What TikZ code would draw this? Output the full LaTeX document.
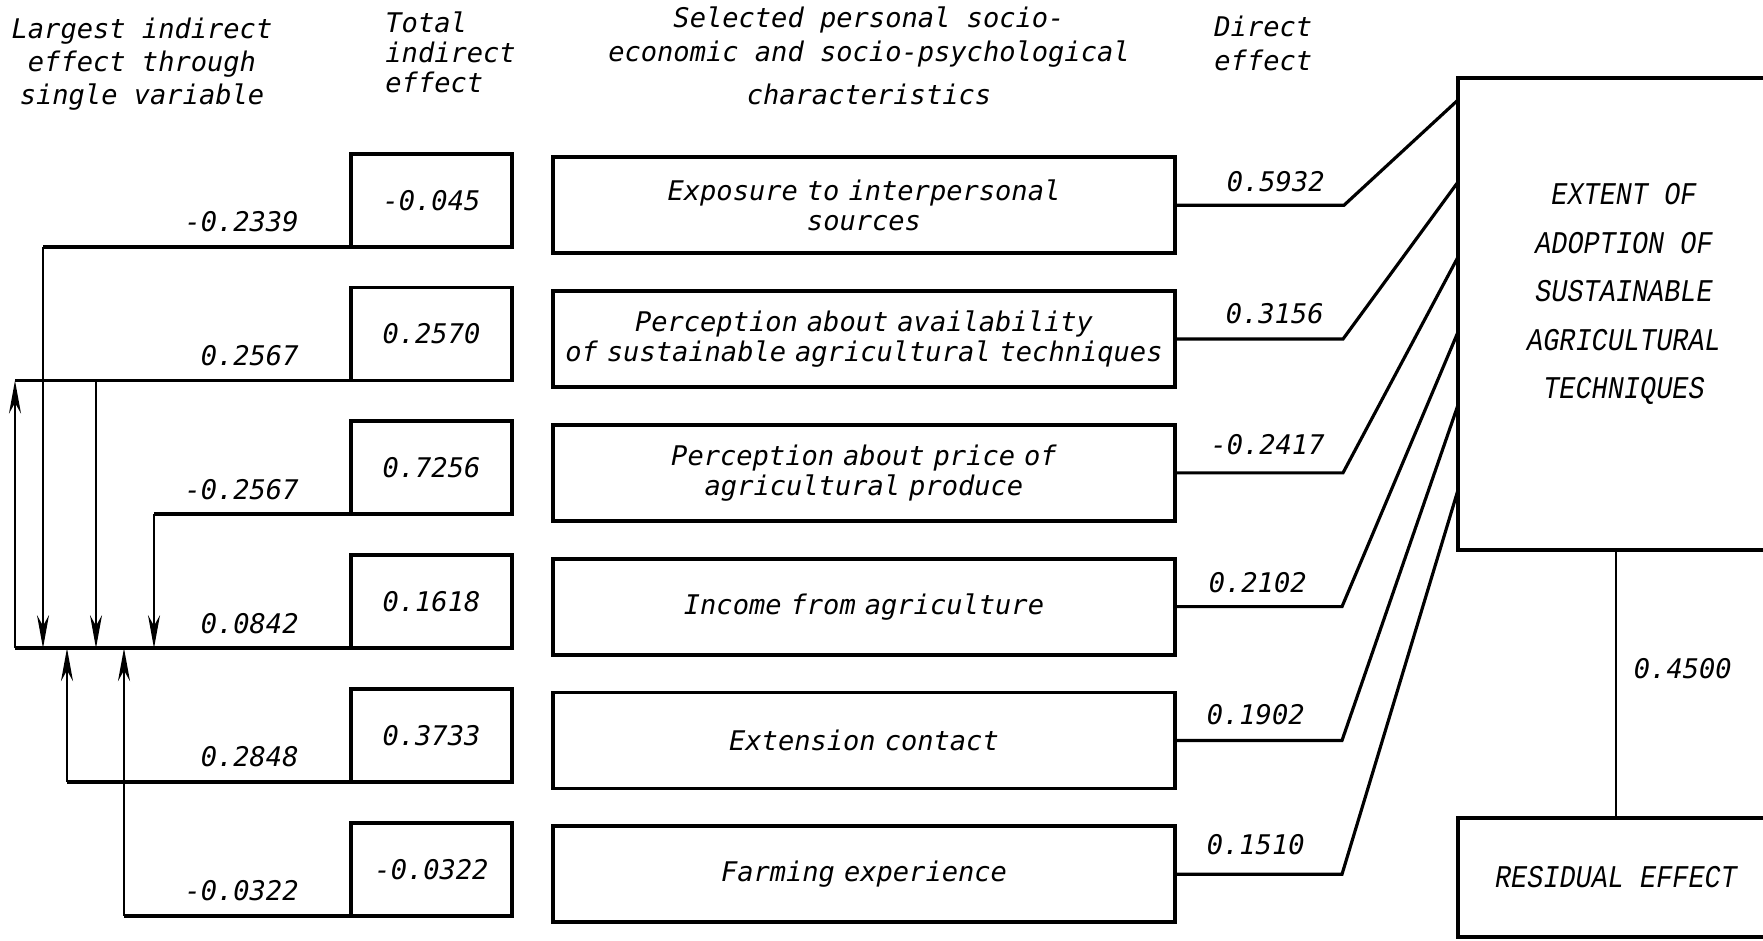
\documentclass[tikz,border=0pt]{standalone}
\usepackage{fontspec}
\newfontfamily\typew{DejaVu Sans Mono}
\newfontfamily\capsw{Liberation Mono}[FakeStretch=0.85]
\usetikzlibrary{positioning,arrows.meta}
\tikzset{
semithick, % all lines semithick
>={Stealth[length=3.3mm,width=1.2mm]}, % long narrow tips
tw/.style={font=\typew\itshape\fontsize{7.7pt}{#1}\selectfont},
tw/.default=9.4pt,
every node/.style={tw},
tbox/.style={draw,line width=1.1pt,minimum width=1.61cm,minimum height=0.93cm,inner sep=0pt,outer sep=0pt},
cbox/.style={draw,line width=1.1pt,minimum height=0.96cm,text width=6.2cm,inner xsep=0.1mm,inner ysep=0pt,
  align=center,outer sep=0pt,yshift=-0.05cm,tw=8.6pt},
bigbox/.style={draw,line width=1.1pt,inner sep=0pt,outer sep=0pt},
bigtext/.style={font=\capsw\itshape\fontsize{9pt}{13.8pt}\selectfont,align=center},
row line/.style={line width=1.1pt},
feed/.style={->,line width=0.6pt},
direct/.style={line width=0.9pt},
value/.style={anchor=base east}
}
\begin{document}
\begin{tikzpicture}
\useasboundingbox (0,0) rectangle (17.63,9.40);
\clip (0,0) rectangle (17.63,9.40);
% column headings
\node[align=center] (hlarge) at (1.42,8.76) {Largest indirect\\effect through\\single variable};
\node[align=left,anchor=west,tw=8.5pt] (htotal) at (3.73,8.88) {Total\\indirect\\effect};
\node[align=center,tw=9.7pt] (hsel) at (8.69,8.84) {Selected personal socio-\\economic and socio-psychological\\[2.5pt]characteristics};
\node[align=left,anchor=west,tw=9.7pt] (hdir) at (12.02,8.97) {Direct\\effect};
% the six characteristics
\matrix (m) [row sep={1.338cm,between origins},column sep={4.325cm,between origins}] at (7.63,4.02) {
  \node[tbox] (t1) {-0.045};  & \node[cbox] (c1) {Exposure to interpersonal\\sources}; \\
  \node[tbox] (t2) {0.2570};  & \node[cbox] (c2) {Perception about availability\\of sustainable agricultural techniques}; \\
  \node[tbox] (t3) {0.7256};  & \node[cbox] (c3) {Perception about price of\\agricultural produce}; \\
  \node[tbox] (t4) {0.1618};  & \node[cbox] (c4) {Income from agriculture}; \\
  \node[tbox] (t5) {0.3733};  & \node[cbox] (c5) {Extension contact}; \\
  \node[tbox] (t6) {-0.0322}; & \node[cbox] (c6) {Farming experience}; \\
};
% dependent variable and residual
\node[bigbox,minimum width=3.16cm,minimum height=4.72cm] (ext) at (16.16,6.26) {};
\node[bigtext] (hext) at (16.24,6.46) {EXTENT OF\\ADOPTION OF\\SUSTAINABLE\\AGRICULTURAL\\TECHNIQUES};
\node[bigbox,minimum width=3.16cm,minimum height=1.19cm,font=\capsw\itshape\fontsize{9pt}{11pt}\selectfont] (res) at (16.16,0.625) {RESIDUAL EFFECT};
\draw[line width=0.7pt] (ext.south) -- node[midway,anchor=west,xshift=0.05cm,yshift=0.15cm] (rlab) {0.4500} (res.north);
% verticals of the indirect paths
\coordinate (up2) at (0.15,0);
\coordinate (dn1) at (0.43,0);
\coordinate (up5) at (0.67,0);
\coordinate (dn2) at (0.96,0);
\coordinate (up6) at (1.24,0);
\coordinate (dn3) at (1.54,0);
\draw[row line] (t1.south west) -- (dn1 |- t1.south west);
\draw[row line] (t2.south west) -- (up2 |- t2.south west);
\draw[row line] (t3.south west) -- (dn3 |- t3.south west);
\draw[row line] (t4.south west) -- (up2 |- t4.south west);
\draw[row line] (t5.south west) -- (up5 |- t5.south west);
\draw[row line] (t6.south west) -- (up6 |- t6.south west);
\draw[feed] (dn1 |- t1.south west) -- (dn1 |- t4.south west);
\draw[feed] (dn2 |- t2.south west) -- (dn2 |- t4.south west);
\draw[feed] (dn3 |- t3.south west) -- (dn3 |- t4.south west);
\draw[feed] (up2 |- t4.south west) -- (up2 |- t2.south west);
\draw[feed] (up5 |- t5.south west) -- (up5 |- t4.south west);
\draw[feed] (up6 |- t6.south west) -- (up6 |- t4.south west);
% largest indirect effects
\node[value,xshift=-0.40cm,yshift=0.15cm] (l1) at (t1.south west) {-0.2339};
\node[value,xshift=-0.40cm,yshift=0.15cm] (l2) at (t2.south west) {0.2567};
\node[value,xshift=-0.40cm,yshift=0.15cm] (l3) at (t3.south west) {-0.2567};
\node[value,xshift=-0.40cm,yshift=0.15cm] (l4) at (t4.south west) {0.0842};
\node[value,xshift=-0.40cm,yshift=0.15cm] (l5) at (t5.south west) {0.2848};
\node[value,xshift=-0.40cm,yshift=0.15cm] (l6) at (t6.south west) {-0.0322};
% direct effects
\draw[direct] (c1.east) -- ++(1.69,0) -- ([yshift=-0.22cm]ext.north west);
\draw[direct] (c2.east) -- ++(1.68,0) -- ([yshift=-1.04cm]ext.north west);
\draw[direct] (c3.east) -- ++(1.68,0) -- ([yshift=-1.79cm]ext.north west);
\draw[direct] (c4.east) -- ++(1.67,0) -- ([yshift=-2.54cm]ext.north west);
\draw[direct] (c5.east) -- ++(1.67,0) -- ([yshift=-3.27cm]ext.north west);
\draw[direct] (c6.east) -- ++(1.67,0) -- ([yshift=-4.12cm]ext.north west);
\node[value,xshift=1.62cm,yshift=0.14cm] (d1) at (c1.east) {0.5932};
\node[value,xshift=1.61cm,yshift=0.16cm] (d2) at (c2.east) {0.3156};
\node[value,xshift=1.62cm,yshift=0.18cm] (d3) at (c3.east) {-0.2417};
\node[value,xshift=1.44cm,yshift=0.14cm] (d4) at (c4.east) {0.2102};
\node[value,xshift=1.42cm,yshift=0.16cm] (d5) at (c5.east) {0.1902};
\node[value,xshift=1.42cm,yshift=0.20cm] (d6) at (c6.east) {0.1510};
\end{tikzpicture}
\end{document}
